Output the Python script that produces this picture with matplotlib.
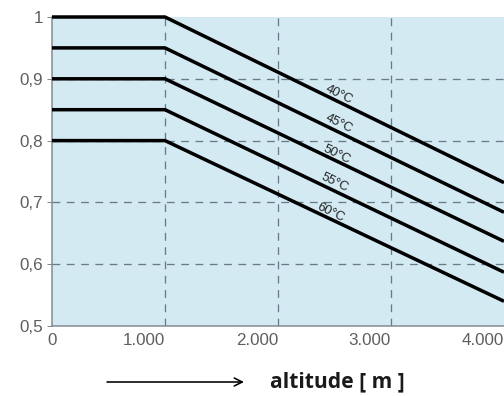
import matplotlib as mpl
mpl.use("Agg")
import matplotlib.pyplot as plt

# derating curves: flat up to 1000 m, then linear drop
altitude = [0, 1000, 4000]
temps = ["40°C", "45°C", "50°C", "55°C", "60°C"]
factors = [
    [1.00, 1.00, 0.732],
    [0.95, 0.95, 0.684],
    [0.90, 0.90, 0.637],
    [0.85, 0.85, 0.587],
    [0.80, 0.80, 0.540],
]
# label anchor (altitude, factor) for each curve
label_pos = [(2540, 0.875), (2540, 0.827), (2520, 0.778), (2500, 0.732), (2470, 0.683)]

xticks = [0, 1000, 2000, 3000, 4000]
xticklabels = ["0", "1.000", "2.000", "3.000", "4.000"]
yticks = [0.5, 0.6, 0.7, 0.8, 0.9, 1.0]
yticklabels = ["0,5", "0,6", "0,7", "0,8", "0,9", "1"]

W, H = 504, 396
fig = plt.figure(figsize=(W / 72, H / 72), dpi=72)
ax = fig.add_axes([52 / W, 1 - 326 / H, (504 - 52) / W, (326 - 17) / H])
ax.set_facecolor("#d4eaf3")

ax.set_xlim(0, 4000)
ax.set_ylim(0.5, 1.0)

gridc = "#687a86"
for x in [1000, 2000, 3000]:
    ax.axvline(x, color=gridc, lw=1.3, dashes=(6, 5), zorder=1)
for y in [0.6, 0.7, 0.8, 0.9]:
    ax.axhline(y, color=gridc, lw=1.3, dashes=(6, 5), zorder=1)

for vals in factors:
    ax.plot(altitude, vals, color="black", lw=3.5, solid_capstyle="butt",
            zorder=3, clip_on=False)

for name, (lx, ly) in zip(temps, label_pos):
    ax.text(lx, ly, name, fontsize=13, color="#222222", rotation=-26,
            ha="center", va="center", rotation_mode="anchor",
            family="Liberation Sans", zorder=4)

for s in ["top", "right"]:
    ax.spines[s].set_visible(False)
for s in ["left", "bottom"]:
    ax.spines[s].set_color("#7f8a90")
    ax.spines[s].set_linewidth(1.5)

ax.set_yticks(yticks)
ax.set_yticklabels(yticklabels)
ax.tick_params(axis="y", length=5, width=1, color="#7f8a90", pad=4,
               labelsize=17, labelcolor="#5e5e5e")
ax.set_xticks(xticks)
ax.set_xticklabels(xticklabels)
ax.tick_params(axis="x", length=0, pad=7, labelsize=17, labelcolor="#5e5e5e")
for lab in ax.get_xticklabels():
    lab.set_family("Liberation Sans")
    lab.set_ha("right" if lab.get_text() != "0" else "center")
for lab in ax.get_yticklabels():
    lab.set_family("Liberation Sans")

fig.patches.append(mpl.patches.FancyArrowPatch(
    (105 / W, 1 - 382 / H), (246 / W, 1 - 382 / H), transform=fig.transFigure,
    arrowstyle="->,head_length=8,head_width=4", lw=1.6, color="black",
    mutation_scale=1))
fig.text(270 / W, 1 - 382 / H, "altitude [ m ]", fontsize=21, fontweight="bold",
         color="#1a1a1a", ha="left", va="center", family="Open Sans")

fig.savefig("out.png", dpi=72)
